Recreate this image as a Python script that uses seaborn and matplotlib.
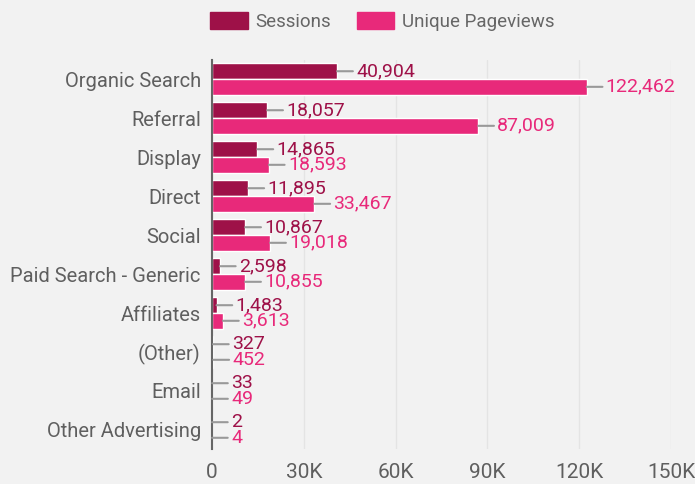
import seaborn as sns
import matplotlib.pyplot as plt
import pandas as pd

channels = ["Organic Search", "Referral", "Display", "Direct", "Social",
            "Paid Search - Generic", "Affiliates", "(Other)", "Email", "Other Advertising"]
sessions = [40904, 18057, 14865, 11895, 10867, 2598, 1483, 327, 33, 2]
pageviews = [122462, 87009, 18593, 33467, 19018, 10855, 3613, 452, 49, 4]
xticks = [0, 30000, 60000, 90000, 120000, 150000]
xlabels = ["0", "30K", "60K", "90K", "120K", "150K"]

df = pd.DataFrame({
    "channel": channels * 2,
    "value": sessions + pageviews,
    "metric": ["Sessions"] * len(channels) + ["Unique Pageviews"] * len(channels),
})

colors = {"Sessions": "#9E1148", "Unique Pageviews": "#E8297A"}
bg = "#F2F2F2"

sns.set_style("white")
plt.rcParams["font.family"] = ["Roboto", "DejaVu Sans"]

fig = plt.figure(figsize=(6.95, 4.84), dpi=100, facecolor=bg)
ax = fig.add_axes([0.305, 0.0713, 0.6605, 0.8057], facecolor=bg)

sns.barplot(data=df, y="channel", x="value", hue="metric", palette=colors,
            orient="h", width=0.8, saturation=1, ax=ax, legend=False)

ax.set_xlim(0, 150000)
ax.set_ylim(9.5, -0.5)
ax.set_xticks(xticks)
ax.set_xticklabels(xlabels)
ax.xaxis.grid(True, color="#E4E4E4", lw=1)
ax.set_axisbelow(True)
ax.set_xlabel("")
ax.set_ylabel("")
for s in ["top", "right", "bottom"]:
    ax.spines[s].set_visible(False)
ax.spines["left"].set_color("#666666")
ax.spines["left"].set_linewidth(1.5)
ax.tick_params(axis="x", length=0, labelsize=15, colors="#5f5f5f", pad=10)
ax.tick_params(axis="y", length=0, labelsize=14.5, colors="#5f5f5f", pad=8)

# value labels with leader lines
for cont, metric in zip(ax.containers, ["Sessions", "Unique Pageviews"]):
    for bar in cont:
        w = bar.get_width()
        yc = bar.get_y() + bar.get_height() / 2
        ax.annotate(f"{int(w):,}", xy=(w, yc), xytext=(19, 0), textcoords="offset pixels",
                    ha="left", va="center", fontsize=14, color=colors[metric],
                    arrowprops=dict(arrowstyle="-", color="#999999", lw=1.5,
                                    shrinkA=0, shrinkB=0))

handles = [plt.Rectangle((0, 0), 1, 1, color=colors[m]) for m in colors]
fig.legend(handles, list(colors), loc="upper center", bbox_to_anchor=(0.55, 1.01), ncol=2,
           frameon=False, fontsize=13.5, labelcolor="#666666", handlelength=2.0,
           handleheight=1.0, columnspacing=1.4, handletextpad=0.4)

fig.savefig("out.png", dpi=100, facecolor=bg)
